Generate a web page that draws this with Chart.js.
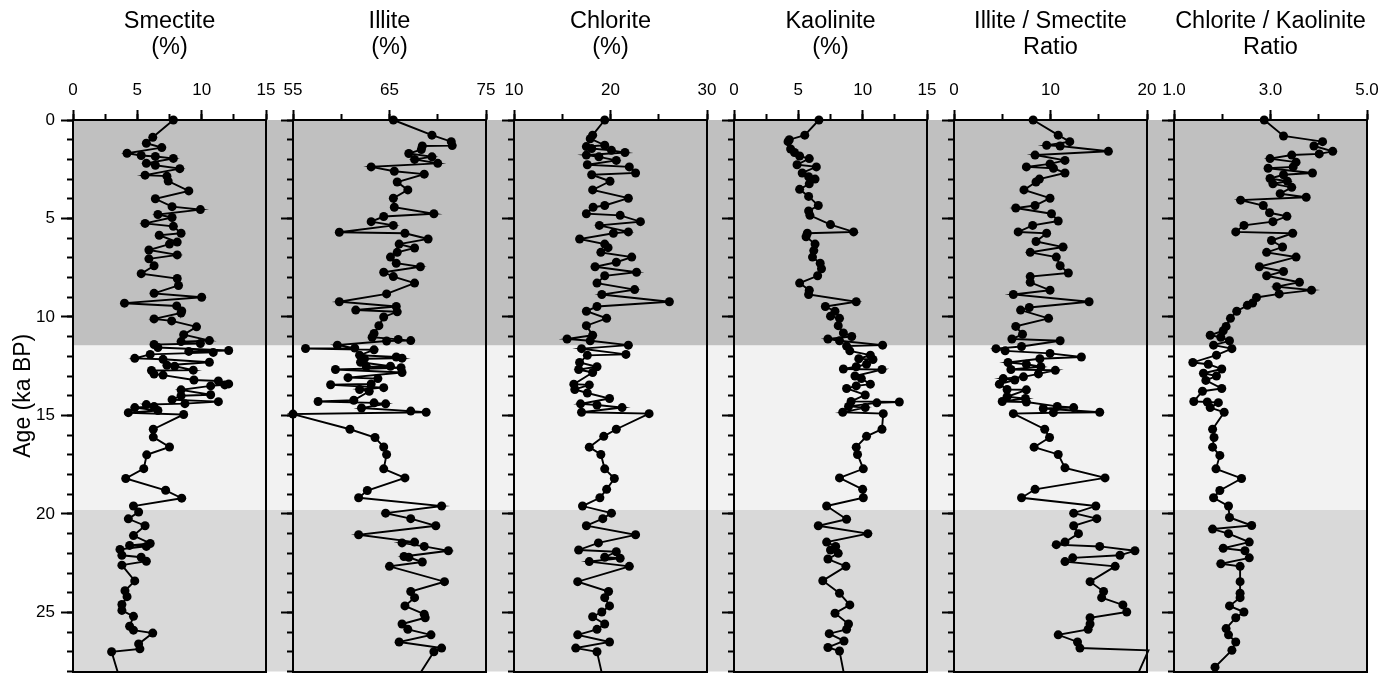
<!DOCTYPE html>
<html>
<head>
<meta charset="utf-8">
<script src="https://cdn.jsdelivr.net/npm/chart.js@4.4.0/dist/chart.umd.min.js"></script>
<style>
  body { margin: 0; background: #fff; }
  #wrap { position: relative; width: 1394px; height: 676px; }
  #wrap canvas { position: absolute; left: 0; top: 0; }
</style>
</head>
<body>
<div id="wrap"></div>
<script>
// ages in ka BP
var smectiteAge = [0, 0.88, 1.18, 1.4, 1.69, 1.8, 1.85, 1.95, 2.2, 2.3, 2.47, 2.8, 2.85, 3.1, 3.6, 4.0, 4.4, 4.55, 4.8, 4.95,
  5.25, 5.4, 5.75, 5.85, 6.2, 6.3, 6.6, 6.85, 7.05, 7.4, 7.8, 8.05, 8.4, 8.8, 9.0, 9.3, 9.44, 9.7, 9.8, 10.1,
  10.2, 10.5, 10.9, 11.2, 11.25, 11.35, 11.4, 11.55, 11.7, 11.75, 11.8, 11.9, 12.1, 12.15, 12.3, 12.45, 12.5, 12.7, 12.72, 12.9,
  12.95, 13.2, 13.25, 13.4, 13.45, 13.5, 13.7, 13.95, 14.0, 14.2, 14.3, 14.4, 14.45, 14.55, 14.6, 14.75, 14.86, 14.95, 15.7, 16.1,
  16.6, 17.0, 17.7, 18.2, 18.8, 19.2, 19.6, 19.9, 20.25, 20.6, 21.1, 21.5, 21.6, 21.65, 21.8, 22.1, 22.2, 22.4, 22.6, 23.4,
  23.9, 24.2, 24.6, 24.9, 25.2, 25.7, 25.9, 26.05, 26.6, 26.85, 27.0, 28.3];
var smectiteVal = [7.8, 6.2, 5.7, 6.9, 4.2, 5.3, 6.4, 7.8, 5.7, 6.4, 8.3, 5.6, 7.3, 7.4, 9.0, 6.4, 7.7, 9.9, 6.6, 7.7,
  5.6, 7.8, 8.4, 6.7, 8.1, 7.5, 5.9, 8.1, 5.9, 6.3, 5.3, 8.1, 8.2, 6.3, 10.0, 4.0, 8.06, 8.45, 8.4, 6.3,
  7.67, 9.6, 8.6, 10.6, 8.4, 9.9, 6.3, 6.6, 12.1, 9.0, 10.9, 6.0, 4.8, 7.0, 10.6, 7.3, 7.9, 9.35, 6.1, 6.3,
  7.0, 9.4, 11.3, 12.1, 11.8, 10.7, 8.4, 10.7, 8.4, 7.7, 11.3, 8.7, 5.7, 6.3, 4.8, 6.6, 4.3, 8.6, 6.24, 6.24,
  7.5, 5.73, 5.5, 4.1, 7.2, 8.45, 4.7, 5.1, 4.3, 5.6, 4.7, 6.0, 4.4, 5.7, 3.65, 3.8, 5.3, 5.7, 3.8, 4.8,
  4.04, 4.2, 3.8, 3.8, 4.7, 4.4, 4.7, 6.2, 5.1, 5.2, 3.0, 3.6];

var illiteAge = [0, 0.77, 1.1, 1.3, 1.32, 1.5, 1.7, 1.87, 2.0, 2.2, 2.38, 2.6, 2.75, 3.15, 3.55, 3.97, 4.43, 4.76, 4.9, 5.16,
  5.35, 5.7, 5.75, 6.04, 6.3, 6.5, 6.72, 6.96, 7.27, 7.45, 7.73, 7.95, 8.28, 8.83, 9.23, 9.47, 9.65, 9.74, 10.0, 10.44,
  10.84, 11.03, 11.14, 11.2, 11.22, 11.43, 11.58, 11.6, 11.67, 11.94, 12.03, 12.09, 12.12, 12.3, 12.5, 12.52, 12.58, 12.67, 12.82, 13.08,
  13.13, 13.4, 13.44, 13.59, 13.68, 13.77, 14.23, 14.29, 14.36, 14.41, 14.62, 14.78, 14.84, 14.93, 15.7, 16.12, 16.6, 16.98, 17.71, 18.17,
  18.81, 19.18, 19.6, 19.96, 20.24, 20.6, 21.06, 21.43, 21.47, 21.65, 21.87, 22.16, 22.2, 22.44, 22.66, 23.44, 23.94, 24.25, 24.67, 25.09,
  25.27, 25.59, 25.86, 26.14, 26.5, 26.81, 27.0, 28.3];
var illiteVal = [65.4, 69.4, 71.4, 71.5, 68.4, 68.3, 67.0, 69.4, 67.6, 70.0, 63.1, 65.5, 68.6, 65.8, 66.9, 65.4, 65.5, 69.6, 64.4, 63.1,
  65.4, 59.8, 66.6, 69.0, 66.0, 67.6, 65.8, 65.1, 65.7, 68.2, 64.4, 65.4, 67.6, 64.7, 59.8, 65.7, 61.5, 65.8, 64.4, 63.9,
  63.4, 63.2, 65.9, 67.2, 64.7, 59.6, 61.4, 56.3, 63.4, 61.9, 65.7, 66.3, 62.4, 62.0, 65.1, 62.6, 66.2, 59.4, 66.3, 60.7,
  63.8, 63.1, 58.9, 64.4, 61.9, 62.9, 61.3, 57.6, 63.4, 64.6, 62.1, 67.2, 68.8, 55.0, 60.9, 63.5, 64.4, 64.7, 64.4, 66.6,
  62.7, 61.8, 70.4, 64.6, 67.2, 69.8, 61.8, 67.6, 66.3, 68.6, 71.1, 66.5, 67.0, 68.4, 65.0, 70.7, 67.2, 67.6, 66.6, 68.6,
  68.7, 66.3, 66.9, 69.3, 66.0, 70.4, 69.6, 67.9];

var chloriteAge = [0, 0.77, 0.95, 1.28, 1.35, 1.45, 1.54, 1.65, 1.78, 1.87, 2.05, 2.27, 2.38, 2.69, 2.78, 3.11, 3.55, 3.97, 4.34, 4.43,
  4.76, 4.84, 5.16, 5.35, 5.68, 5.75, 6.04, 6.3, 6.48, 6.72, 6.96, 7.22, 7.45, 7.73, 7.91, 8.28, 8.61, 8.86, 9.23, 9.47,
  9.71, 10.07, 10.44, 10.93, 11.12, 11.21, 11.43, 11.61, 11.9, 11.95, 12.31, 12.53, 12.67, 12.82, 13.41, 13.45, 13.68, 13.86, 14.14, 14.41,
  14.47, 14.6, 14.84, 14.91, 15.7, 16.06, 16.61, 16.98, 17.71, 18.2, 18.75, 19.18, 19.6, 19.96, 20.24, 20.6, 21.06, 21.47, 21.83, 21.92,
  22.2, 22.25, 22.42, 22.66, 23.44, 23.94, 24.25, 24.67, 24.98, 25.22, 25.59, 25.86, 26.14, 26.5, 26.81, 27.0, 28.3];
var chloriteVal = [19.4, 18.15, 17.9, 19.4, 17.5, 18.05, 20.1, 21.5, 17.5, 18.8, 20.6, 17.6, 21.95, 22.6, 18.05, 19.95, 18.15, 21.85, 19.4, 18.2,
  17.5, 21.0, 23.1, 18.85, 21.85, 20.3, 16.8, 19.4, 19.75, 19.0, 22.2, 20.6, 18.4, 22.7, 19.4, 18.6, 22.5, 19.1, 26.1, 18.6,
  17.5, 19.6, 17.5, 18.15, 15.5, 17.9, 21.85, 17.0, 21.6, 17.6, 16.8, 18.6, 16.7, 18.15, 16.2, 17.8, 16.3, 17.6, 19.9, 16.9,
  18.6, 21.2, 17.0, 24.0, 20.6, 19.3, 17.8, 19.0, 19.4, 20.4, 19.6, 18.9, 17.1, 20.1, 19.2, 17.5, 22.6, 18.75, 16.7, 20.6,
  19.4, 21.0, 17.8, 21.95, 16.6, 19.8, 19.4, 19.9, 19.1, 18.15, 19.4, 18.6, 16.6, 19.9, 16.4, 18.6, 19.2];

var kaoliniteAge = [0, 0.77, 1.0, 1.1, 1.47, 1.65, 1.83, 1.96, 2.27, 2.38, 2.69, 2.88, 3.0, 3.24, 3.52, 3.88, 4.34, 4.62, 4.84, 5.31,
  5.68, 5.75, 5.93, 6.3, 6.63, 6.96, 7.27, 7.55, 7.91, 8.28, 8.64, 8.86, 9.23, 9.47, 9.71, 9.96, 10.07, 10.44, 10.81, 10.99,
  11.12, 11.21, 11.43, 11.48, 11.72, 11.94, 12.12, 12.16, 12.4, 12.53, 12.64, 12.67, 13.0, 13.13, 13.41, 13.5, 13.63, 13.96, 14.29, 14.32,
  14.36, 14.54, 14.6, 14.84, 14.91, 15.7, 16.06, 16.61, 16.98, 17.71, 18.17, 18.75, 19.18, 19.6, 20.27, 20.6, 21.0, 21.43, 21.65, 21.83,
  22.0, 22.29, 22.66, 23.39, 24.03, 24.62, 25.04, 25.59, 25.86, 26.08, 26.45, 26.78, 26.96, 28.3];
var kaoliniteVal = [6.6, 5.5, 4.3, 4.2, 4.4, 4.7, 5.1, 5.85, 4.9, 6.4, 5.3, 5.8, 6.3, 5.85, 5.1, 5.8, 6.55, 5.8, 5.9, 7.5,
  9.3, 5.7, 5.6, 6.3, 6.2, 6.1, 6.7, 6.8, 6.5, 5.1, 5.85, 5.8, 9.5, 7.1, 7.85, 7.5, 8.2, 8.1, 8.5, 9.15,
  7.3, 8.2, 11.55, 8.75, 9.0, 10.6, 9.7, 10.8, 10.3, 9.5, 8.5, 11.5, 9.4, 9.9, 10.6, 9.5, 8.75, 10.2, 9.1, 12.85,
  11.1, 8.9, 10.2, 8.45, 11.6, 11.5, 10.3, 9.5, 9.6, 10.05, 8.2, 10.0, 10.05, 7.2, 8.75, 6.55, 10.4, 7.2, 7.9, 7.5,
  8.1, 7.3, 8.7, 6.9, 8.2, 9.0, 7.85, 8.9, 8.75, 7.4, 8.55, 7.3, 8.2, 8.6];

var isAge = [0, 0.77, 1.1, 1.28, 1.32, 1.59, 1.78, 2.05, 2.23, 2.38, 2.45, 2.69, 3.0, 3.15, 3.55, 3.97, 4.34, 4.47, 4.76, 5.13,
  5.35, 5.68, 5.75, 6.17, 6.45, 6.72, 6.96, 7.4, 7.77, 7.95, 8.24, 8.64, 8.86, 9.23, 9.52, 9.65, 10.07, 10.48, 10.88, 11.12,
  11.21, 11.5, 11.61, 11.72, 11.85, 12.03, 12.12, 12.31, 12.4, 12.53, 12.67, 12.71, 12.89, 13.04, 13.13, 13.2, 13.41, 13.68, 13.7, 14.05,
  14.14, 14.29, 14.32, 14.54, 14.6, 14.65, 14.84, 14.86, 14.91, 15.7, 16.12, 16.61, 16.98, 17.66, 18.17, 18.75, 19.18, 19.6, 19.96, 20.24,
  20.6, 21.0, 21.43, 21.56, 21.65, 21.87, 22.1, 22.23, 22.42, 22.66, 23.44, 23.94, 24.25, 24.62, 24.98, 25.27, 25.59, 25.86, 26.14, 26.5,
  26.81, 26.93, 28.3];
var isRatio = [8.2, 10.8, 12.0, 9.6, 11.0, 16.0, 8.4, 11.5, 9.95, 7.5, 10.3, 11.5, 8.85, 8.5, 7.25, 9.95, 8.4, 6.4, 10.1, 10.8,
  8.15, 6.65, 9.6, 8.5, 11.3, 7.9, 10.6, 11.0, 11.85, 7.9, 7.9, 9.95, 6.15, 14.0, 7.8, 6.9, 9.8, 6.4, 7.1, 6.0,
  11.0, 7.0, 4.35, 5.3, 9.95, 13.2, 8.9, 5.6, 7.5, 9.0, 5.9, 10.5, 8.75, 7.2, 5.1, 6.3, 4.7, 5.5, 7.5, 5.5,
  7.4, 5.0, 7.5, 10.7, 12.4, 9.25, 15.1, 10.3, 6.15, 9.4, 9.9, 8.3, 10.8, 11.5, 15.65, 8.4, 7.0, 14.7, 12.4, 14.8,
  12.4, 12.9, 11.5, 10.6, 15.1, 18.75, 17.2, 12.3, 11.5, 16.7, 14.1, 15.5, 15.3, 17.5, 17.9, 14.1, 14.1, 13.9, 10.8, 12.8,
  13.05, 20.15, 18.9];

var ckAge = [0, 0.81, 1.1, 1.32, 1.59, 1.72, 1.78, 1.96, 2.14, 2.38, 2.45, 2.69, 2.78, 2.97, 3.11, 3.24, 3.42, 3.74, 3.92, 4.07,
  4.34, 4.71, 4.89, 5.16, 5.35, 5.68, 5.75, 6.12, 6.45, 6.72, 6.96, 7.45, 7.69, 7.91, 8.24, 8.46, 8.64, 8.83, 9.01, 9.29,
  9.41, 9.71, 10.07, 10.48, 10.7, 10.93, 11.03, 11.21, 11.43, 11.61, 11.94, 12.31, 12.4, 12.64, 12.86, 13.0, 13.22, 13.63, 13.77, 14.29,
  14.32, 14.35, 14.6, 14.84, 15.7, 16.12, 16.61, 17.03, 17.71, 18.2, 18.81, 19.18, 19.6, 20.18, 20.59, 20.77, 21.0, 21.43, 21.74, 21.87,
  22.23, 22.53, 22.66, 23.44, 24.03, 24.25, 24.67, 24.98, 25.27, 25.82, 26.14, 26.5, 26.92, 27.78, 28.3];
var ckRatio = [2.87, 3.27, 4.08, 3.9, 4.29, 4.01, 3.44, 2.99, 3.53, 3.47, 2.95, 3.87, 3.27, 2.99, 3.35, 3.05, 3.44, 3.2, 3.74, 2.38,
  2.85, 2.98, 3.34, 3.05, 2.45, 2.28, 3.46, 3.02, 3.25, 2.92, 3.53, 2.77, 3.27, 2.92, 3.6, 3.13, 3.85, 3.18, 2.71, 2.63,
  2.52, 2.3, 2.17, 2.08, 2.02, 1.75, 1.97, 2.15, 1.82, 2.2, 1.88, 1.39, 1.71, 1.99, 1.61, 1.88, 1.66, 1.99, 1.59, 1.41,
  1.69, 1.92, 1.75, 2.04, 1.8, 1.83, 1.8, 1.95, 1.87, 2.4, 1.95, 1.82, 2.13, 2.15, 2.61, 1.8, 2.13, 2.56, 2.02, 2.47,
  2.56, 1.97, 2.37, 2.37, 2.37, 2.37, 2.15, 2.45, 2.28, 2.08, 2.13, 2.28, 2.2, 1.85, 1.9];

// panel axes
var panelTitles = [['Smectite', '(%)'], ['Illite', '(%)'], ['Chlorite', '(%)'], ['Kaolinite', '(%)'],
  ['Illite / Smectite', 'Ratio'], ['Chlorite / Kaolinite', 'Ratio']];
var axisMin = [0, 55, 10, 0, 0, 1];
var axisMax = [15, 75, 30, 15, 20, 5];
var majorStep = [5, 10, 10, 5, 10, 2];
var minorStep = [2.5, 5, 5, 2.5, 5, 1];
var labelDigits = [0, 0, 0, 0, 0, 1];
var ageMax = 28;
var ageMajor = 5;
var ageMinor = 1;
var bandEdges = [0, 11.45, 19.8, 28];
var bandColors = ['#c0c0c0', '#f2f2f2', '#d9d9d9'];

// layout
var W = 1394, H = 676;
var panelLeft = [73, 293, 514, 734, 954, 1174];
var panelWidth = 193;
var plotTop = 120, plotBottom = 672;
var fontFamily = "'Liberation Sans', Arial, Helvetica, sans-serif";

Chart.defaults.font.family = fontFamily;
Chart.defaults.color = '#000';

var bandPlugin = {
    id: 'bands',
    beforeDraw: function (chart, args, opts) {
        var ctx = chart.ctx;
        var area = chart.chartArea;
        var ys = chart.scales.y;
        ctx.save();
        for (var b = 0; b < bandColors.length; b++) {
            var y1 = ys.getPixelForValue(bandEdges[b]);
            var y2 = ys.getPixelForValue(bandEdges[b + 1]);
            ctx.fillStyle = bandColors[b];
            ctx.fillRect(area.left, y1, area.right - area.left + opts.extend, y2 - y1);
        }
        ctx.restore();
    }
};

// fix the box size of a scale and stop its labels from pushing the plot area
function fixSize(w, h) {
    return function (s) {
        if (w !== null) s.width = w;
        if (h !== null) s.height = h;
        s.paddingTop = 0;
        s.paddingBottom = 0;
        s.paddingLeft = 0;
        s.paddingRight = 0;
    };
}

function makePanel(i, ages, vals) {
    var canvas = document.createElement('canvas');
    canvas.width = W;
    canvas.height = H;
    document.getElementById('wrap').appendChild(canvas);

    var left = panelLeft[i];
    var right = left + panelWidth;
    var lo = axisMin[i], hi = axisMax[i];
    var pts = ages.map(function (a, k) { return {x: vals[k], y: a}; });

    new Chart(canvas, {
        type: 'scatter',
        data: {
            datasets: [{
                data: pts,
                showLine: true,
                borderColor: '#000',
                borderWidth: 1.9,
                pointBackgroundColor: '#000',
                pointBorderWidth: 0,
                pointRadius: function (c) {
                    var p = c.raw;
                    if (!p) return 0;
                    return (p.y > ageMax || p.x < lo || p.x > hi) ? 0 : 4.5;
                },
                clip: {left: 6, top: 6, right: 6, bottom: 0},
                xAxisID: 'x',
                yAxisID: 'y'
            }]
        },
        options: {
            responsive: false,
            animation: false,
            events: [],
            layout: {
                padding: {left: i === 0 ? 0 : left, right: W - right, top: 0, bottom: H - plotBottom}
            },
            plugins: {
                legend: {display: false},
                tooltip: {enabled: false},
                bands: {extend: i < 5 ? panelLeft[i + 1] - right : 1}
            },
            scales: {
                x: {
                    type: 'linear', axis: 'x', position: 'top', min: lo, max: hi, weight: 1,
                    afterFit: fixSize(null, plotTop),
                    border: {display: true, color: '#000', width: 2},
                    grid: {drawOnChartArea: false, tickLength: 10, tickColor: '#000', tickWidth: 2},
                    ticks: {
                        stepSize: majorStep[i], autoSkip: false, maxRotation: 0, padding: 9,
                        font: {size: 17}, color: '#000',
                        callback: function (v) { return Number(v).toFixed(labelDigits[i]); }
                    },
                    title: {
                        display: true, text: panelTitles[i], color: '#000',
                        font: {size: 23.5, lineHeight: 1.1}, padding: {top: 9, bottom: 0}
                    }
                },
                x2: {
                    type: 'linear', axis: 'x', position: 'top', min: lo, max: hi, weight: 0,
                    afterFit: fixSize(null, 0),
                    border: {display: false},
                    grid: {drawOnChartArea: false, tickLength: 6, tickColor: '#000', tickWidth: 2},
                    ticks: {stepSize: minorStep[i], autoSkip: false, display: false}
                },
                xb: {
                    type: 'linear', axis: 'x', position: 'bottom', min: lo, max: hi,
                    afterFit: fixSize(null, 0),
                    border: {display: true, color: '#000', width: 2},
                    grid: {display: false},
                    ticks: {display: false}
                },
                y: {
                    type: 'linear', axis: 'y', position: 'left', reverse: true, min: 0, max: ageMax, weight: 1,
                    afterFit: fixSize(i === 0 ? left : 0, null),
                    border: {display: true, color: '#000', width: 2},
                    grid: {drawOnChartArea: false, tickLength: 12, tickColor: '#000', tickWidth: 2},
                    ticks: {
                        stepSize: ageMajor, includeBounds: false, autoSkip: false, display: i === 0,
                        padding: 6, font: {size: 17}, color: '#000'
                    },
                    title: {
                        display: i === 0, text: 'Age (ka BP)', color: '#000',
                        font: {size: 23}, padding: {top: 10, bottom: 0}
                    }
                },
                y2: {
                    type: 'linear', axis: 'y', position: 'left', reverse: true, min: 0, max: ageMax, weight: 0,
                    afterFit: fixSize(0, null),
                    border: {display: false},
                    grid: {drawOnChartArea: false, tickLength: 6, tickColor: '#000', tickWidth: 2},
                    ticks: {stepSize: ageMinor, autoSkip: false, display: false}
                },
                yr: {
                    type: 'linear', axis: 'y', position: 'right', reverse: true, min: 0, max: ageMax,
                    afterFit: fixSize(0, null),
                    border: {display: true, color: '#000', width: 2},
                    grid: {display: false},
                    ticks: {display: false}
                }
            }
        },
        plugins: [bandPlugin]
    });
}

makePanel(0, smectiteAge, smectiteVal);
makePanel(1, illiteAge, illiteVal);
makePanel(2, chloriteAge, chloriteVal);
makePanel(3, kaoliniteAge, kaoliniteVal);
makePanel(4, isAge, isRatio);
makePanel(5, ckAge, ckRatio);
</script>
</body>
</html>
